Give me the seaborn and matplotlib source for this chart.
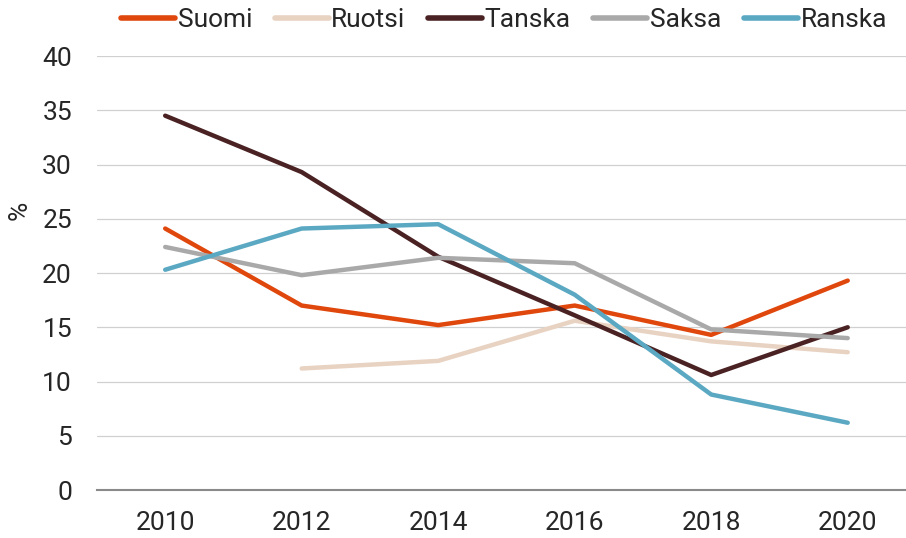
import matplotlib

matplotlib.use("Agg")
import matplotlib.pyplot as plt
import numpy as np
import pandas as pd
import seaborn as sns

years = [2010, 2012, 2014, 2016, 2018, 2020]
suomi = [24.1, 17.0, 15.2, 17.0, 14.3, 19.3]
ruotsi = [np.nan, 11.2, 11.9, 15.6, 13.7, 12.7]
tanska = [34.5, 29.3, 21.5, 16.1, 10.6, 15.0]
saksa = [22.4, 19.8, 21.4, 20.9, 14.8, 14.0]
ranska = [20.3, 24.1, 24.5, 18.0, 8.8, 6.2]

names = ["Suomi", "Ruotsi", "Tanska", "Saksa", "Ranska"]
colors = ["#E0470C", "#E8D2C2", "#4A2223", "#A9A9A9", "#5BA8C3"]

df = pd.DataFrame({"vuosi": years, "Suomi": suomi, "Ruotsi": ruotsi,
                   "Tanska": tanska, "Saksa": saksa, "Ranska": ranska})
long = df.melt(id_vars="vuosi", var_name="maa", value_name="arvo").dropna()

sns.set_style("white")
plt.rcParams["font.family"] = ["Roboto", "DejaVu Sans"]
plt.rcParams["text.color"] = "#262626"
plt.rcParams["xtick.color"] = "#262626"
plt.rcParams["ytick.color"] = "#262626"

fs = 19

fig = plt.figure(figsize=(9.06, 5.38), dpi=100)
ax = fig.add_axes([0.107, 0.0892, 0.904, 0.8067])

sns.lineplot(data=long, x="vuosi", y="arvo", hue="maa", hue_order=names,
             palette=dict(zip(names, colors)), linewidth=3.2, ax=ax,
             solid_capstyle="round", solid_joinstyle="round")

ax.set_xlim(2009, 2021)
ax.set_ylim(0, 40)
ax.set_yticks(range(0, 41, 5))
ax.set_xticks(years)
ax.set_xticks(np.arange(2009, 2022, 2), minor=True)
ax.tick_params(axis="x", which="major", length=0, pad=15, labelsize=fs)
ax.tick_params(axis="x", which="minor", length=6, width=1.5, color="#8a8a8a",
               direction="out")
ax.tick_params(axis="y", length=0, pad=18, labelsize=fs)
ax.grid(axis="y", color="#d0d0d0", linewidth=0.9)
ax.set_axisbelow(True)
for s in ["top", "right", "left"]:
    ax.spines[s].set_visible(False)
ax.spines["bottom"].set_color("#8a8a8a")
ax.spines["bottom"].set_linewidth(1.5)
ax.set_xlabel("")
ax.set_ylabel("")
fig.text(20 / 906, 1 - 210 / 538, "%", rotation=90, ha="center", va="center",
         fontsize=fs)

handles, labels = ax.get_legend_handles_labels()
ax.legend(handles, labels, ncol=5, frameon=False, fontsize=fs,
          loc="center", bbox_to_anchor=(0.497, 1.083),
          handlelength=2.05, handletextpad=0.1, columnspacing=0.85)
for line in ax.get_legend().get_lines():
    line.set_linewidth(4)
    line.set_solid_capstyle("round")

fig.savefig("out.png", dpi=100)
